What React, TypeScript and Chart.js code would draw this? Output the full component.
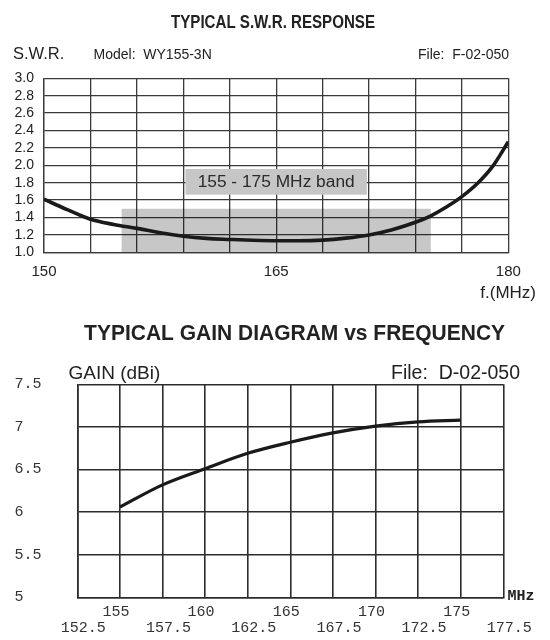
import React, { useEffect, useRef } from 'react';
import { Chart, registerables } from 'chart.js';

Chart.register(...registerables);

// ---------- data ----------
const SWR_FREQ = [150, 151.5, 153, 154.5, 156, 157.5, 159, 160.5, 162, 163.5, 165, 166.5, 168, 169.5, 171, 172.5, 174, 175, 176, 177, 178, 179, 180];
const SWR_VALUE = [1.61, 1.49, 1.38, 1.32, 1.275, 1.225, 1.185, 1.16, 1.148, 1.138, 1.133, 1.133, 1.14, 1.163, 1.2, 1.26, 1.345, 1.42, 1.52, 1.64, 1.79, 1.99, 2.27];
const SWR_X_GRID = [150, 153, 156, 159, 162, 165, 168, 171, 174, 177, 180];
const SWR_X_LABELS = [150, 165, 180];
const SWR_Y_TICKS = [1.0, 1.2, 1.4, 1.6, 1.8, 2.0, 2.2, 2.4, 2.6, 2.8, 3.0];
const BAND_START = 155;
const BAND_END = 175;
const BAND_TOP = 1.5;
const BAND_LABEL = '155 - 175 MHz band';
const BAND_LABEL_FREQ = 165;
const BAND_LABEL_SWR = 1.81;

const GAIN_FREQ = [155, 157.5, 160, 162.5, 165, 167.5, 170, 172.5, 175];
const GAIN_DBI = [6.06, 6.32, 6.51, 6.69, 6.82, 6.93, 7.01, 7.06, 7.08];
const GAIN_X_GRID = [152.5, 155, 157.5, 160, 162.5, 165, 167.5, 170, 172.5, 175, 177.5];
const GAIN_X_LABELS_ROW1 = [155, 160, 165, 170, 175];
const GAIN_X_LABELS_ROW2 = [152.5, 157.5, 162.5, 167.5, 172.5, 177.5];
const GAIN_Y_TICKS = [5, 5.5, 6, 6.5, 7, 7.5];

const SANS = '"Liberation Sans", Arial, Helvetica, sans-serif';
const MONO = '"Liberation Mono", "Courier New", monospace';

function fitText(ctx: CanvasRenderingContext2D, text: string, x: number, y: number, width: number, font: string, align: CanvasTextAlign) {
  ctx.save();
  ctx.font = font;
  const w = ctx.measureText(text).width;
  const s = width / w;
  ctx.translate(x, y);
  ctx.scale(s, 1);
  ctx.textAlign = align;
  ctx.textBaseline = 'alphabetic';
  ctx.fillText(text, 0, 0);
  ctx.restore();
}

const near = (v: number, list: number[]) => list.some((l) => Math.abs(l - v) < 1e-6);
const setTicks = (values: number[]) => (axis: any) => {
  axis.ticks = values.map((v) => ({ value: v }));
};

function SwrChart() {
  const ref = useRef<HTMLCanvasElement>(null);
  useEffect(() => {
    if (!ref.current) return;
    const header = {
      id: 'swrHeader',
      afterDraw(chart: any) {
        const ctx: CanvasRenderingContext2D = chart.ctx;
        ctx.save();
        ctx.fillStyle = '#222';
        fitText(ctx, 'TYPICAL S.W.R. RESPONSE', 273, 28, 204, `bold 18px ${SANS}`, 'center');
        ctx.textBaseline = 'alphabetic';
        ctx.textAlign = 'left';
        ctx.font = `16.5px ${SANS}`;
        ctx.fillText('S.W.R.', 13, 58.5);
        ctx.font = `14px ${SANS}`;
        ctx.fillText('Model:  WY155-3N', 93.5, 59.3);
        ctx.textAlign = 'right';
        ctx.fillText('File:  F-02-050', 509, 58.5);
        ctx.font = `17px ${SANS}`;
        ctx.fillText('f.(MHz)', 536, 298);
        ctx.restore();
      },
    };
    const bandLabel = {
      id: 'bandLabel',
      afterDatasetsDraw(chart: any) {
        const ctx: CanvasRenderingContext2D = chart.ctx;
        const cx = chart.scales.x.getPixelForValue(BAND_LABEL_FREQ);
        const cy = chart.scales.y.getPixelForValue(BAND_LABEL_SWR);
        ctx.save();
        ctx.fillStyle = '#c6c6c6';
        ctx.fillRect(cx - 90.7, cy - 12.85, 181.4, 25.7);
        ctx.fillStyle = '#2b2b2b';
        fitText(ctx, BAND_LABEL, cx, cy + 5.6, 157, `16px ${SANS}`, 'center');
        ctx.restore();
      },
    };
    const gridColor = '#3a3a3a';
    const chart = new Chart(ref.current, {
      type: 'line',
      data: {
        datasets: [
          {
            label: 'S.W.R.',
            data: SWR_FREQ.map((f, i) => ({ x: f, y: SWR_VALUE[i] })),
            borderColor: '#1a1a1a',
            borderWidth: 3.6,
            pointRadius: 0,
            tension: 0.4,
            cubicInterpolationMode: 'monotone',
            fill: false,
            order: 0,
          },
          {
            label: 'band',
            data: [
              { x: BAND_START, y: BAND_TOP },
              { x: BAND_END, y: BAND_TOP },
            ],
            borderWidth: 0,
            borderColor: 'rgba(0,0,0,0)',
            backgroundColor: 'rgba(0,0,0,0.22)',
            fill: 'start',
            pointRadius: 0,
            order: 1,
          },
        ],
      } as any,
      options: {
        responsive: false,
        animation: false,
        layout: { padding: { left: 0, right: 41.7, top: 78.3, bottom: 0 } },
        plugins: { legend: { display: false }, tooltip: { enabled: false }, title: { display: false } },
        scales: {
          x: {
            type: 'linear',
            min: 150,
            max: 180,
            grid: { color: gridColor, lineWidth: 1.3, drawTicks: false },
            border: { color: gridColor, width: 1.3 },
            afterBuildTicks: setTicks(SWR_X_GRID),
            ticks: {
              autoSkip: false,
              maxRotation: 0,
              padding: 11,
              color: '#222',
              font: { family: SANS, size: 15 },
              callback: (v: any) => (near(Number(v), SWR_X_LABELS) ? String(v) : ''),
            },
            afterFit: (s: any) => {
              s.height = 57.7;
            },
          },
          y: {
            type: 'linear',
            min: 1,
            max: 3,
            grid: { color: gridColor, lineWidth: 1.3, drawTicks: false },
            border: { color: gridColor, width: 1.3 },
            afterBuildTicks: setTicks(SWR_Y_TICKS),
            ticks: {
              autoSkip: false,
              padding: 10,
              color: '#222',
              font: { family: SANS, size: 14 },
              callback: (v: any) => Number(v).toFixed(1),
            },
            afterFit: (s: any) => {
              s.width = 44;
            },
          },
        },
      } as any,
      plugins: [header, bandLabel],
    });
    return () => chart.destroy();
  }, []);
  return <canvas ref={ref} width={550} height={310} style={{ position: 'absolute', left: 0, top: 0, width: 550, height: 310 }} />;
}

function GainChart() {
  const ref = useRef<HTMLCanvasElement>(null);
  useEffect(() => {
    if (!ref.current) return;
    const header = {
      id: 'gainHeader',
      afterDraw(chart: any) {
        const ctx: CanvasRenderingContext2D = chart.ctx;
        ctx.save();
        ctx.fillStyle = '#222';
        fitText(ctx, 'TYPICAL GAIN DIAGRAM vs FREQUENCY', 294.6, 29.8, 421, `bold 22px ${SANS}`, 'center');
        ctx.textBaseline = 'alphabetic';
        ctx.textAlign = 'left';
        ctx.font = `19px ${SANS}`;
        ctx.fillText('GAIN (dBi)', 68.5, 68.5);
        ctx.textAlign = 'right';
        ctx.font = `19.5px ${SANS}`;
        ctx.fillText('File:  D-02-050', 520, 68.5);
        ctx.textAlign = 'left';
        ctx.textBaseline = 'middle';
        ctx.font = `bold 15px ${MONO}`;
        ctx.fillText('MHz', 507.5, 286.5);
        ctx.restore();
      },
    };
    const gridColor = '#2c2c2c';
    const chart = new Chart(ref.current, {
      type: 'line',
      data: {
        datasets: [
          {
            label: 'GAIN (dBi)',
            data: GAIN_FREQ.map((f, i) => ({ x: f, y: GAIN_DBI[i] })),
            borderColor: '#1a1a1a',
            borderWidth: 3.2,
            pointRadius: 0,
            tension: 0.4,
            cubicInterpolationMode: 'monotone',
            fill: false,
          },
        ],
      } as any,
      options: {
        responsive: false,
        animation: false,
        layout: { padding: { left: 14.5, right: 46.7, top: 74.3, bottom: 0 } },
        plugins: { legend: { display: false }, tooltip: { enabled: false }, title: { display: false } },
        scales: {
          x: {
            type: 'linear',
            position: 'bottom',
            weight: 0,
            min: 152.5,
            max: 177.5,
            grid: { color: gridColor, lineWidth: 1.6, drawTicks: false },
            border: { color: gridColor, width: 1.6 },
            afterBuildTicks: setTicks(GAIN_X_GRID),
            ticks: {
              autoSkip: false,
              maxRotation: 0,
              padding: 5.4,
              labelOffset: -4,
              color: '#333',
              font: { family: MONO, size: 15 },
              callback: (v: any) => (near(Number(v), GAIN_X_LABELS_ROW1) ? String(v) : ''),
            },
            afterFit: (s: any) => {
              s.height = 22;
            },
          },
          x2: {
            type: 'linear',
            position: 'bottom',
            weight: 1,
            min: 152.5,
            max: 177.5,
            grid: { display: false, drawTicks: false },
            border: { display: false },
            afterBuildTicks: setTicks(GAIN_X_LABELS_ROW2),
            ticks: {
              autoSkip: false,
              maxRotation: 0,
              padding: 0,
              labelOffset: 6,
              color: '#333',
              font: { family: MONO, size: 15 },
              callback: (v: any) => (near(Number(v), GAIN_X_LABELS_ROW2) ? Number(v).toFixed(1) : ''),
            },
            afterFit: (s: any) => {
              s.height = 20.7;
            },
          },
          y: {
            type: 'linear',
            min: 5,
            max: 7.5,
            grid: { color: gridColor, lineWidth: 1.6, drawTicks: false },
            border: { color: gridColor, width: 1.6 },
            afterBuildTicks: setTicks(GAIN_Y_TICKS),
            ticks: {
              autoSkip: false,
              crossAlign: 'far',
              color: '#333',
              font: { family: MONO, size: 15 },
              callback: (v: any) => String(Number(v)),
            },
            afterFit: (s: any) => {
              s.width = 62.8;
            },
          },
        },
      } as any,
      plugins: [header],
    });
    return () => chart.destroy();
  }, []);
  return <canvas ref={ref} width={550} height={330} style={{ position: 'absolute', left: 0, top: 310, width: 550, height: 330 }} />;
}

export default function App() {
  return (
    <div style={{ position: 'absolute', left: 0, top: 0, width: 550, height: 640, background: '#fff' }}>
      <SwrChart />
      <GainChart />
    </div>
  );
}
